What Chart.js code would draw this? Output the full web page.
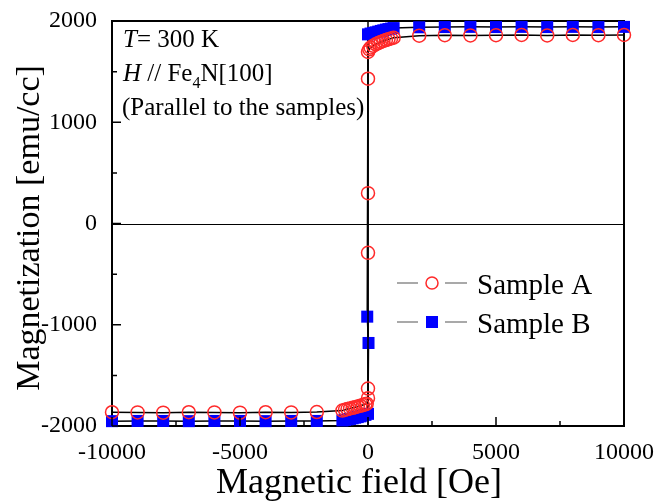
<!DOCTYPE html>
<html>
<head>
<meta charset="utf-8">
<script src="https://cdn.jsdelivr.net/npm/chart.js@4.4.0/dist/chart.umd.min.js"></script>
<style>
  html, body { margin: 0; padding: 0; background: #fff; }
</style>
</head>
<body>
<canvas id="myChart" width="658" height="502"></canvas>
<script>
const fieldA = [10000, 9000, 8000, 7000, 6000, 5000, 4000, 3000, 2000,
  1000, 900, 800, 700, 600, 500, 400, 300, 200, 100, 50, 0,
  0, 0, 0, 0, 0,
  -50, -100, -200, -300, -400, -500, -600, -700, -800, -900, -1000,
  -2000, -3000, -4000, -5000, -6000, -7000, -8000, -9000, -10000];
const momentA = [1862, 1860, 1862, 1858, 1862, 1860, 1858, 1860, 1855,
  1835, 1828, 1820, 1812, 1803, 1793, 1782, 1770, 1755, 1738, 1720, 1695,
  1430, 300, -290, -1630, -1725,
  -1780, -1786, -1793, -1800, -1807, -1814, -1820, -1827, -1833, -1840, -1848,
  -1862, -1866, -1864, -1868, -1866, -1864, -1868, -1866, -1864];

const fieldB = [10000, 9000, 8000, 7000, 6000, 5000, 4000, 3000, 2000,
  1000, 900, 800, 700, 600, 500, 400, 300, 200, 100, 0,
  -30, 20,
  0, -100, -200, -300, -400, -500, -600, -700, -800, -900, -1000,
  -2000, -3000, -4000, -5000, -6000, -7000, -8000, -9000, -10000];
const momentB = [1942, 1940, 1942, 1940, 1942, 1940, 1942, 1940, 1938,
  1930, 1925, 1920, 1915, 1908, 1902, 1895, 1888, 1882, 1876, 1868,
  -920, -1180,
  -1880, -1890, -1898, -1905, -1912, -1918, -1924, -1930, -1935, -1940, -1945,
  -1950, -1950, -1952, -1950, -1950, -1952, -1950, -1950, -1952];

const seriesNames = ['Sample A', 'Sample B'];
const xMajor = [-10000, -5000, 0, 5000, 10000];
const xMinor = [-7500, -2500, 2500, 7500];
const yMajor = [-2000, -1000, 0, 1000, 2000];
const yMinor = [-1500, -500, 500, 1500];

const serif = '"Liberation Serif", "Times New Roman", serif';

const toPoints = (xs, ys) => xs.map((v, i) => ({ x: v, y: ys[i] }));

const frame = {
  id: 'frame',
  beforeDatasetsDraw(chart) {
    const { ctx, chartArea: a, scales: { x, y } } = chart;
    ctx.save();
    ctx.strokeStyle = '#000';
    ctx.lineWidth = 1;
    const y0 = Math.round(y.getPixelForValue(0)) + 0.5;
    ctx.beginPath(); ctx.moveTo(a.left, y0); ctx.lineTo(a.right, y0); ctx.stroke();
    ctx.lineWidth = 1.5;
    const x0 = x.getPixelForValue(0);
    ctx.beginPath(); ctx.moveTo(x0, a.top); ctx.lineTo(x0, a.bottom); ctx.stroke();
    ctx.lineWidth = 2;
    ctx.strokeRect(a.left, a.top, a.right - a.left, a.bottom - a.top);
    ctx.restore();
  },
  afterDraw(chart) {
    const { ctx, chartArea: a, scales: { x, y } } = chart;
    ctx.save();
    ctx.strokeStyle = '#000';
    ctx.lineWidth = 1.5;
    // inward ticks, bottom and left only
    ctx.beginPath();
    xMajor.forEach(v => { const p = x.getPixelForValue(v); ctx.moveTo(p, a.bottom); ctx.lineTo(p, a.bottom - 9); });
    xMinor.forEach(v => { const p = x.getPixelForValue(v); ctx.moveTo(p, a.bottom); ctx.lineTo(p, a.bottom - 5); });
    yMajor.forEach(v => { const p = y.getPixelForValue(v); ctx.moveTo(a.left, p); ctx.lineTo(a.left + 9, p); });
    yMinor.forEach(v => { const p = y.getPixelForValue(v); ctx.moveTo(a.left, p); ctx.lineTo(a.left + 5, p); });
    ctx.stroke();

    ctx.fillStyle = '#000';
    ctx.textBaseline = 'alphabetic';
    ctx.textAlign = 'left';

    // annotations
    let tx = 123;
    ctx.font = 'italic 25px ' + serif;
    ctx.fillText('T', tx, 47);
    tx += ctx.measureText('T').width;
    ctx.font = '25px ' + serif;
    ctx.fillText('= 300 K', tx, 47);

    tx = 123;
    ctx.font = 'italic 25px ' + serif;
    ctx.fillText('H', tx, 81);
    tx += ctx.measureText('H').width;
    ctx.font = '25px ' + serif;
    ctx.fillText(' // Fe', tx, 81);
    tx += ctx.measureText(' // Fe').width;
    ctx.font = '16px ' + serif;
    ctx.fillText('4', tx, 88);
    tx += ctx.measureText('4').width;
    ctx.font = '25px ' + serif;
    ctx.fillText('N[100]', tx, 81);

    ctx.fillText('(Parallel to the samples)', 122, 115);

    // legend
    const rows = [283, 322];
    chart.data.datasets.forEach((ds, i) => {
      const ry = rows[i];
      ctx.strokeStyle = '#555';
      ctx.lineWidth = 1.2;
      ctx.beginPath();
      ctx.moveTo(397, ry); ctx.lineTo(418, ry);
      ctx.moveTo(445, ry); ctx.lineTo(467, ry);
      ctx.stroke();
      ctx.strokeStyle = ds.pointBorderColor;
      ctx.fillStyle = ds.pointBackgroundColor;
      ctx.lineWidth = ds.pointBorderWidth;
      Chart.helpers.drawPoint(ctx, {
        pointStyle: ds.pointStyle, radius: ds.pointStyle === 'rect' ? 8.5 : 6,
        rotation: 0, borderWidth: ds.pointBorderWidth
      }, 432, ry);
      ctx.fillStyle = '#000';
      ctx.font = '29px ' + serif;
      ctx.fillText(ds.label, 477, ry + 11);
    });

    // axis titles
    ctx.font = '36px ' + serif;
    ctx.textAlign = 'center';
    ctx.fillText('Magnetic field [Oe]', 359, 493);
    ctx.font = '34px ' + serif;
    ctx.translate(39, 228);
    ctx.rotate(-Math.PI / 2);
    ctx.fillText('Magnetization [emu/cc]', 0, 0);
    ctx.restore();
  }
};

new Chart(document.getElementById('myChart').getContext('2d'), {
  type: 'line',
  data: {
    datasets: [{
      label: seriesNames[0],
      data: toPoints(fieldA, momentA),
      borderColor: '#000',
      borderWidth: 1.5,
      pointStyle: 'circle',
      pointRadius: 6.5,
      pointBorderWidth: 1.5,
      pointBorderColor: '#ff2a2a',
      pointBackgroundColor: 'rgba(255,255,255,0)',
      clip: false,
    }, {
      label: seriesNames[1],
      data: toPoints(fieldB, momentB),
      borderColor: '#000',
      borderWidth: 1.5,
      pointStyle: 'rect',
      pointRadius: 8.5,
      pointBorderWidth: 0,
      pointBorderColor: '#0000ff',
      pointBackgroundColor: '#0000ff',
      clip: false,
    }],
  },
  options: {
    responsive: false,
    animation: false,
    devicePixelRatio: 1,
    layout: { padding: { top: 21, right: 34, left: 0, bottom: 0 } },
    plugins: { legend: { display: false }, tooltip: { enabled: false } },
    elements: { line: { tension: 0 } },
    scales: {
      x: {
        type: 'linear', position: 'bottom', min: -10000, max: 10000,
        afterFit: s => { s.height = 76; s.paddingLeft = 0; s.paddingRight = 0; },
        grid: { display: false },
        border: { display: true, color: '#000', width: 2 },
        ticks: {
          stepSize: 5000, padding: 4, color: '#000',
          font: { family: serif, size: 24 },
          callback: v => String(v),
          maxRotation: 0,
        },
      },
      y: {
        type: 'linear', min: -2000, max: 2000,
        afterFit: s => { s.width = 112; s.paddingTop = 0; s.paddingBottom = 0; },
        grid: { display: false },
        border: { display: true, color: '#000', width: 2 },
        ticks: {
          stepSize: 1000, padding: 7, color: '#000',
          font: { family: serif, size: 24 },
          callback: v => String(v),
        },
      },
    },
  },
  plugins: [frame],
});
</script>
</body>
</html>
